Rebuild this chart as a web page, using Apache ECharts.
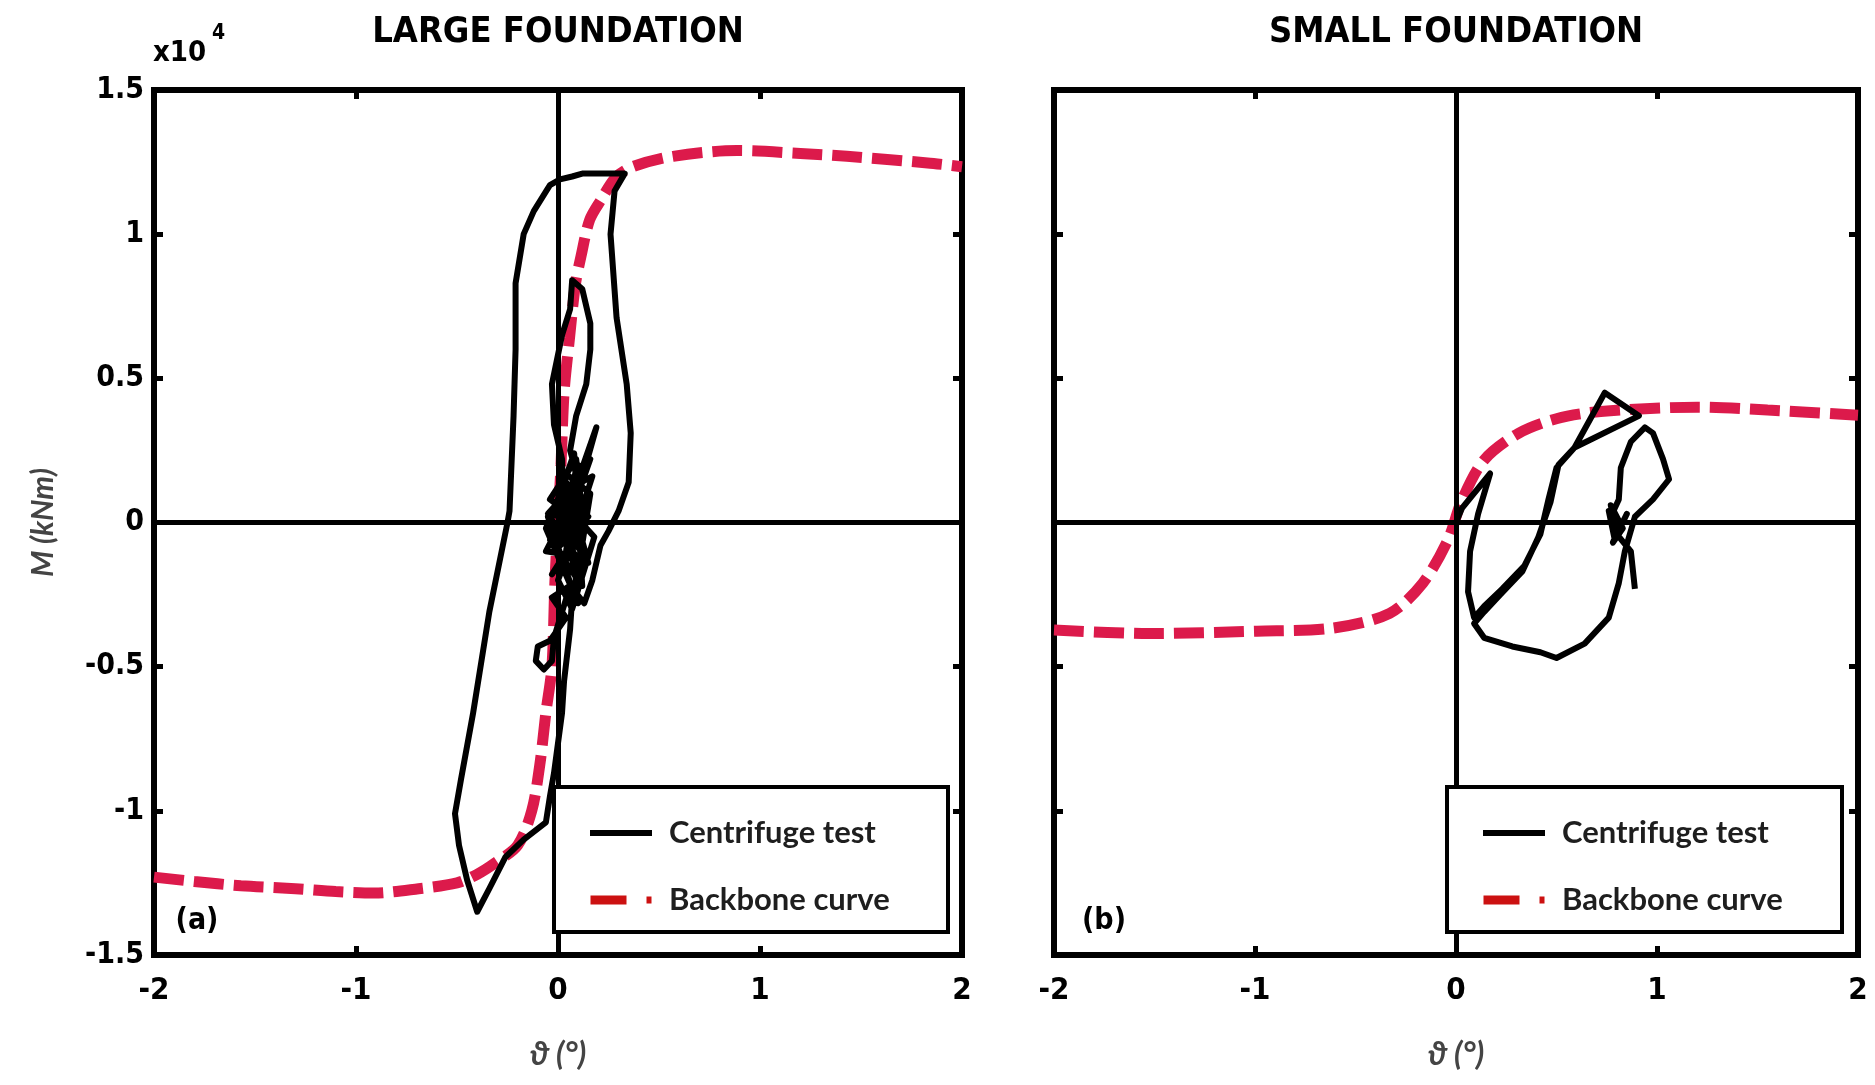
<!DOCTYPE html>
<html>
<head>
<meta charset="utf-8">
<script src="https://cdn.jsdelivr.net/npm/echarts@6/dist/echarts.min.js"></script>
<style>
  html, body { margin: 0; padding: 0; background: #fff; }
  #chart { width: 1875px; height: 1085px; }
</style>
</head>
<body>
<div id="chart"></div>
<script>
// axis ranges (theta in deg, M in x10^4 kNm)
const thetaMin = -2, thetaMax = 2, thetaStep = 1;
const momentMin = -1.5, momentMax = 1.5, momentStep = 0.5;

const panelTitles = ['LARGE FOUNDATION', 'SMALL FOUNDATION'];
const panelTags = ['(a)', '(b)'];
const seriesNames = ['Centrifuge test', 'Backbone curve'];

// backbone curve, large foundation
const largeBackboneTheta = [-2.0, -1.8, -1.57, -1.3, -1.1, -0.91, -0.69, -0.5, -0.4, -0.31, -0.2, -0.13, -0.09, -0.06, -0.03, -0.015, 0, 0.015, 0.03, 0.057, 0.086, 0.114, 0.157, 0.214, 0.286, 0.37, 0.57, 0.886, 1.2, 1.43, 1.83, 2.0];
const largeBackboneM = [-1.23, -1.245, -1.26, -1.27, -1.28, -1.285, -1.27, -1.25, -1.22, -1.18, -1.12, -1.0, -0.84, -0.66, -0.5, -0.2, 0, 0.2, 0.45, 0.64, 0.825, 0.924, 1.05, 1.12, 1.197, 1.234, 1.27, 1.29, 1.28, 1.27, 1.247, 1.234];

// backbone curve, small foundation
const smallBackboneTheta = [-2.0, -1.53, -0.99, -0.61, -0.33, -0.165, -0.04, 0.03, 0.14, 0.31, 0.5, 0.72, 1.2, 1.55, 2.0];
const smallBackboneM = [-0.373, -0.385, -0.377, -0.366, -0.315, -0.21, -0.06, 0.078, 0.217, 0.309, 0.36, 0.385, 0.40, 0.39, 0.372];

// centrifuge test, large foundation
const largeTestTheta = [0.00, 0.06, -0.02, 0.10, 0.03, 0.14, -0.05, 0.08, 0.16, 0.02, 0.12, -0.06, 0.05, 0.18, 0.07, 0.00, 0.11,
  -0.04, 0.09, 0.13, -0.03, 0.06, 0.17, 0.01, -0.06, 0.10, 0.04, 0.15, -0.02, 0.08, 0.12, 0.03,
  0.02, -0.02, -0.03, 0.02, 0.06, 0.07, 0.12, 0.16, 0.16, 0.14, 0.09, 0.06, 0.10,
  0.19, 0.13, 0.16, 0.09,
  -0.04, 0.10, -0.03, 0.04,
  -0.04, -0.10, -0.11, -0.07, -0.03, -0.02,
  0.06, 0.13, 0.17, 0.21, 0.25, 0.30, 0.35, 0.36, 0.34, 0.29, 0.26, 0.28, 0.33,
  0.12, 0.07, 0.01, -0.04, -0.12, -0.17, -0.21, -0.21, -0.22, -0.24, -0.25, -0.34, -0.42, -0.48, -0.51, -0.49, -0.45, -0.40,
  -0.34, -0.26, -0.17, -0.06, -0.04, -0.02, 0.02, 0.03, 0.06, 0.07, 0.12, 0.04, 0.15, 0.01, 0.09, -0.05, 0.13, 0.05, 0.11];
const largeTestM = [0.00, 0.12, -0.05, 0.20, -0.15, 0.05, 0.02, -0.25, 0.10, 0.18, -0.12, -0.10, 0.05, -0.05, -0.30, -0.20, 0.00,
  0.08, 0.22, -0.02, -0.18, -0.08, 0.16, 0.10, -0.02, -0.28, 0.14, -0.14, 0.04, 0.24, -0.22, -0.06,
  0.22, 0.34, 0.48, 0.65, 0.74, 0.84, 0.81, 0.69, 0.60, 0.48, 0.37, 0.25, 0.15,
  0.33, 0.18, 0.22, 0.08,
  -0.06, -0.20, -0.26, -0.33,
  -0.41, -0.43, -0.48, -0.51, -0.48, -0.40,
  -0.22, -0.28, -0.20, -0.08, -0.03, 0.04, 0.14, 0.31, 0.48, 0.71, 1.00, 1.15, 1.21,
  1.21, 1.20, 1.19, 1.17, 1.08, 1.00, 0.83, 0.60, 0.37, 0.04, 0.00, -0.31, -0.66, -0.89, -1.01, -1.12, -1.24, -1.35,
  -1.27, -1.16, -1.10, -1.04, -0.95, -0.87, -0.66, -0.55, -0.37, -0.26, -0.10, 0.08, 0.02, -0.08, 0.14, 0.03, -0.16, 0.12, -0.04];

// centrifuge test, small foundation
const smallTestTheta = [0.00, 0.03, 0.17, 0.11, 0.07, 0.06, 0.09, 0.14, 0.23, 0.34, 0.42, 0.46, 0.50, 0.59, 0.74, 0.91, 0.59, 0.51, 0.47, 0.41, 0.33, 0.22, 0.14, 0.09,
  0.14, 0.28, 0.42, 0.50, 0.64, 0.76, 0.81, 0.84, 0.89, 0.98, 1.06, 1.03, 0.98, 0.94, 0.87, 0.82, 0.81, 0.77, 0.79, 0.76, 0.80, 0.77, 0.83, 0.78, 0.85, 0.80, 0.87, 0.89];
const smallTestM = [0.00, 0.05, 0.17, 0.03, -0.10, -0.24, -0.33, -0.29, -0.23, -0.15, -0.04, 0.08, 0.19, 0.26, 0.45, 0.37, 0.26, 0.20, 0.07, -0.05, -0.17, -0.25, -0.31, -0.35,
  -0.40, -0.43, -0.45, -0.47, -0.42, -0.33, -0.21, -0.10, 0.02, 0.08, 0.15, 0.22, 0.31, 0.33, 0.28, 0.19, 0.08, 0.02, -0.06, 0.04, -0.03, 0.06, -0.02, -0.07, 0.03, -0.04, -0.10, -0.23];

const pairs = (xs, ys) => xs.map((x, i) => [x, ys[i]]);

const testColor = '#000000';
const backboneColor = '#dc1a4b';
const tickFont = '"DejaVu Sans Condensed", "Liberation Sans Narrow", sans-serif';
const textFont = 'Lato, "Open Sans", sans-serif';

const grids = [
  { left: 154, top: 90, width: 808, height: 865 },
  { left: 1054, top: 90, width: 804, height: 865 }
];

const tickStyle = { inside: true, length: 9, lineStyle: { color: '#000', width: 5 } };

function xAxes(gridIndex) {
  const base = {
    gridIndex, type: 'value', min: thetaMin, max: thetaMax, interval: thetaStep,
    axisLine: { show: false, onZero: false }, splitLine: { show: false }, axisTick: tickStyle
  };
  return [
    Object.assign({}, base, {
      position: 'bottom',
      axisLabel: { margin: 20, color: '#000', fontFamily: tickFont, fontWeight: 'bold', fontSize: 31 },
      name: 'ϑ (°)', nameLocation: 'middle', nameGap: 84,
      nameTextStyle: { fontFamily: textFont, fontStyle: 'italic', fontWeight: 'bold', fontSize: 32, color: '#444' }
    }),
    Object.assign({}, base, { position: 'top', axisLabel: { show: false } })
  ];
}

function yAxes(gridIndex, withLabels) {
  const base = {
    gridIndex, type: 'value', min: momentMin, max: momentMax, interval: momentStep,
    axisLine: { show: false, onZero: false }, splitLine: { show: false }, axisTick: tickStyle
  };
  const left = Object.assign({}, base, {
    position: 'left',
    axisLabel: withLabels
      ? { margin: 10, color: '#000', fontFamily: tickFont, fontWeight: 'bold', fontSize: 30 }
      : { show: false }
  });
  if (withLabels) {
    Object.assign(left, {
      name: 'M (kNm)', nameLocation: 'middle', nameGap: 96, nameRotate: 90,
      nameTextStyle: { fontFamily: textFont, fontStyle: 'italic', fontWeight: 'bold', fontSize: 30, color: '#444' }
    });
  }
  return [left, Object.assign({}, base, { position: 'right', axisLabel: { show: false } })];
}

function panelSeries(gridIndex, testData, backboneData) {
  return [
    {
      name: seriesNames[1], type: 'line',
      xAxisIndex: gridIndex * 2, yAxisIndex: gridIndex * 2,
      data: backboneData, showSymbol: false, smooth: 0.3, z: 3,
      itemStyle: { color: backboneColor },
      lineStyle: { color: backboneColor, width: 11, type: [30, 10] },
      markLine: {
        silent: true, symbol: 'none', label: { show: false },
        lineStyle: { color: '#000', width: 5, type: 'solid' },
        emphasis: { disabled: true },
        data: [{ xAxis: 0 }, { yAxis: 0 }]
      }
    },
    {
      name: seriesNames[0], type: 'line',
      xAxisIndex: gridIndex * 2, yAxisIndex: gridIndex * 2,
      data: testData, showSymbol: false, z: 4,
      itemStyle: { color: testColor },
      lineStyle: { color: testColor, width: 6, join: 'round' }
    }
  ];
}

const legendData = [
  { name: seriesNames[0], icon: 'path://M0,0h62v6h-62z' },
  { name: seriesNames[1], icon: 'path://M0,0h36v9h-36z M56,1h5v7h-5z', itemStyle: { color: '#cc1111' } }
];
function legendAt(left) {
  return {
    left, top: 810, orient: 'vertical', selectedMode: false, z: 12,
    itemWidth: 62, itemHeight: 9, itemGap: 31,
    textStyle: { fontFamily: textFont, fontWeight: 'bold', fontSize: 31, lineHeight: 36, color: '#1e1e1e', padding: [0, 0, 0, 12] },
    data: legendData
  };
}

const chart = echarts.init(document.getElementById('chart'));
chart.setOption({
  animation: false,
  backgroundColor: '#fff',
  grid: grids.map(g => Object.assign({ show: true, borderColor: '#000', borderWidth: 6, backgroundColor: 'transparent' }, g)),
  xAxis: [...xAxes(0), ...xAxes(1)],
  yAxis: [...yAxes(0, true), ...yAxes(1, false)],
  legend: [legendAt(585), legendAt(1478)],
  series: [
    ...panelSeries(0, pairs(largeTestTheta, largeTestM), pairs(largeBackboneTheta, largeBackboneM)),
    ...panelSeries(1, pairs(smallTestTheta, smallTestM), pairs(smallBackboneTheta, smallBackboneM))
  ],
  graphic: [
    { type: 'text', x: 558, y: 33, style: { text: panelTitles[0], font: 'bold 36px ' + tickFont, fill: '#000', align: 'center', verticalAlign: 'middle' } },
    { type: 'text', x: 1456, y: 33, style: { text: panelTitles[1], font: 'bold 36px ' + tickFont, fill: '#000', align: 'center', verticalAlign: 'middle' } },
    { type: 'text', x: 153, y: 68, style: { text: 'x10', font: 'bold 29px ' + tickFont, fill: '#000', verticalAlign: 'bottom' } },
    { type: 'text', x: 212, y: 44, style: { text: '4', font: 'bold 21px ' + tickFont, fill: '#000', verticalAlign: 'bottom' } },
    { type: 'text', x: 197, y: 921, z: 12, style: { text: panelTags[0], font: 'bold 30px ' + tickFont, fill: '#000', align: 'center', verticalAlign: 'middle' } },
    { type: 'text', x: 1104, y: 921, z: 12, style: { text: panelTags[1], font: 'bold 30px ' + tickFont, fill: '#000', align: 'center', verticalAlign: 'middle' } },
    { type: 'rect', z: 11, shape: { x: 554, y: 787, width: 394, height: 145 }, style: { fill: '#fff', stroke: '#000', lineWidth: 4 } },
    { type: 'rect', z: 11, shape: { x: 1447, y: 787, width: 395, height: 145 }, style: { fill: '#fff', stroke: '#000', lineWidth: 4 } }
  ]
});
</script>
</body>
</html>
